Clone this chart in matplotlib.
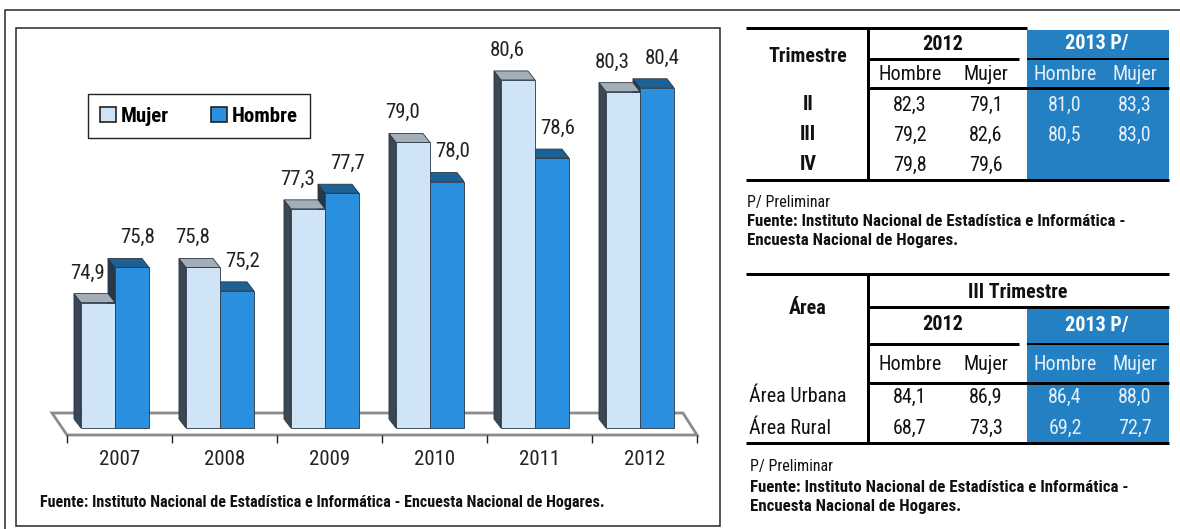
import matplotlib
matplotlib.use("Agg")
import matplotlib.pyplot as plt
from matplotlib.patches import Polygon, Rectangle, Patch

# --- data -------------------------------------------------------------
years = ["2007", "2008", "2009", "2010", "2011", "2012"]
mujer = [74.9, 75.8, 77.3, 79.0, 80.6, 80.3]
hombre = [75.8, 75.2, 77.7, 78.0, 78.6, 80.4]

trimestres = ["II", "III", "IV"]
t2012_hombre = [82.3, 79.2, 79.8]
t2012_mujer = [79.1, 82.6, 79.6]
t2013_hombre = [81.0, 80.5]
t2013_mujer = [83.3, 83.0]

areas = ["Área Urbana", "Área Rural"]
a2012_hombre = [84.1, 68.7]
a2012_mujer = [86.9, 73.3]
a2013_hombre = [86.4, 69.2]
a2013_mujer = [88.0, 72.7]

fuente = "Fuente: Instituto Nacional de Estadística e Informática - Encuesta Nacional de Hogares."

plt.rcParams["font.family"] = ["Roboto Condensed", "DejaVu Sans"]

W, H = 1180, 529
fig = plt.figure(figsize=(W / 100, H / 100), dpi=100)

# overlay axes in pixel coordinates (borders, tables, notes)
ov = fig.add_axes([0, 0, 1, 1], zorder=0)
ov.set_xlim(0, W)
ov.set_ylim(H, 0)
ov.axis("off")

def lw(px):
    return px * 0.72

def fmt(v):
    return f"{v:.1f}".replace(".", ",")

def txt(x, y, s, size=14.5, bold=False, color="#111111", ha="center"):
    ov.text(x, y, s, fontsize=size, fontweight="bold" if bold else "normal",
            color=color, ha=ha, va="center")

def hline(y, x0, x1, px=3, color="black"):
    ov.plot([x0, x1], [y, y], color=color, lw=lw(px), solid_capstyle="butt")

def vline(x, y0, y1, px=3, color="black"):
    ov.plot([x, x], [y0, y1], color=color, lw=lw(px), solid_capstyle="butt")

# outer frame and chart frame
ov.plot([5, 5, W], [H, 10, 10], color="#222222", lw=lw(1.5))
ov.add_patch(Rectangle((16, 28), 704, 498, fill=False, ec="#222222", lw=lw(1.5)))

# --- bar chart ----------------------------------------------------------
ax_l, ax_r, ax_t, ax_b = 67, 697, 28, 435
ax = fig.add_axes([ax_l / W, 1 - ax_b / H, (ax_r - ax_l) / W, (ax_b - ax_t) / H], zorder=1)
ax.patch.set_alpha(0)
ylo, yhi = 71.51, 81.93
ax.set_xlim(-0.5, len(years) - 0.5)
ax.set_ylim(ylo, yhi)
ppu_y = (ax_b - ax_t) / (yhi - ylo)
ppu_x = (ax_r - ax_l) / len(years)
base = ylo + 7 / ppu_y
dx = 7 / ppu_x
dy = 9 / ppu_y

# floor
floor_back = ylo + 22 / ppu_y
ax.add_patch(Polygon([(-0.5 - 15 / ppu_x, floor_back), (5.5 - 14 / ppu_x, floor_back),
                      (5.5, ylo), (-0.5, ylo)], closed=True, fc="white",
                     ec="#8c8c8c", lw=2, clip_on=False, zorder=1))

bw = 34 / ppu_x
x = list(range(len(years)))
xm = [i - 0.205 for i in x]
xh = [i + 0.119 for i in x]

def faces(xc, v, side_c, top_c, z):
    x0, x1 = xc - bw / 2, xc + bw / 2
    ax.add_patch(Polygon([(x0, base), (x0 - dx, base + dy), (x0 - dx, v + dy), (x0, v)],
                         closed=True, fc=side_c, ec="#2a3540", lw=0.6, zorder=z, clip_on=False))
    ax.add_patch(Polygon([(x0, v), (x0 - dx, v + dy), (x1 - dx, v + dy), (x1, v)],
                         closed=True, fc=top_c, ec="#2a3540", lw=0.6, zorder=z, clip_on=False))

for i in x:
    faces(xh[i], hombre[i], "#26394a", "#1d6194", 2)
ax.bar(xh, [v - base for v in hombre], bottom=base, width=bw, color="#2b8fe0",
       edgecolor="#2a3540", linewidth=0.6, zorder=2.5)
for i in x:
    faces(xm[i], mujer[i], "#3a4754", "#a3afb8", 3)
ax.bar(xm, [v - base for v in mujer], bottom=base, width=bw, color="#cfe4f7",
       edgecolor="#2a3540", linewidth=0.6, zorder=3.5, label="Mujer")

for i in x:
    ax.text(xm[i] - 0.1, mujer[i] + 0.76, fmt(mujer[i]), ha="center", va="center",
            fontsize=15, color="#222222", zorder=5)
    ax.text(xh[i] + 0.05, hombre[i] + 0.76, fmt(hombre[i]), ha="center", va="center",
            fontsize=15, color="#222222", zorder=5)

for s in ax.spines.values():
    s.set_visible(False)
ax.set_yticks([])
ax.set_xticks([i - 0.5 for i in range(len(years) + 1)])
ax.set_xticklabels([])
ax.tick_params(axis="x", which="major", length=6, width=1, color="#222222")
ax.set_xticks(x, minor=True)
ax.set_xticklabels(years, minor=True, fontsize=15, color="#222222")
ax.tick_params(axis="x", which="minor", length=0, pad=11)

handles = [Patch(fc="#cfe4f7", ec="#222222", lw=1.2), Patch(fc="#2b8fe0", ec="#222222", lw=1.2)]
leg = ax.legend(handles, ["Mujer", "Hombre"], ncol=2, loc="center",
                bbox_to_anchor=(199 / W, 1 - 116 / H), bbox_transform=fig.transFigure,
                frameon=True, fancybox=False, edgecolor="#222222", framealpha=1,
                handlelength=0.75, handleheight=0.75, handletextpad=0.25,
                columnspacing=2.0, borderpad=0.6,
                prop={"weight": "bold", "size": 15, "family": ["Roboto Condensed", "DejaVu Sans"]})
leg.get_frame().set_linewidth(1.0)

ov.text(40, 503, fuente, fontsize=11.65, fontweight="bold", color="#111111",
        ha="left", va="center")

# --- tables -------------------------------------------------------------
BLUE = "#2380c3"
LIGHT = "#e3effa"
TL, TV, TB0, TR = 746, 868, 1027, 1169
col_x = [910, 986, 1065, 1135]

# table 1
ov.add_patch(Rectangle((TB0, 30), TR - TB0, 150, fc=BLUE, ec="none"))
hline(28, TL, TB0)
hline(59, TV, 1019)
hline(59, TB0, TR, px=2)
hline(88, TV, TR)
hline(180, TL, TR)
vline(TV, 28, 181)
txt(808, 57, "Trimestre", bold=True)
txt(943, 44, "2012", bold=True)
txt(1097, 44, "2013 P/", bold=True, color="white")
for cx, lab in zip(col_x, ["Hombre", "Mujer", "Hombre", "Mujer"]):
    txt(cx, 74, lab, color="#111111" if cx < TB0 else LIGHT)
rows1 = [105, 135, 165]
for i, t in enumerate(trimestres):
    txt(808, rows1[i], t, bold=True)
    txt(col_x[0], rows1[i], fmt(t2012_hombre[i]))
    txt(col_x[1], rows1[i], fmt(t2012_mujer[i]))
for i in range(len(t2013_hombre)):
    txt(col_x[2], rows1[i], fmt(t2013_hombre[i]), color=LIGHT)
    txt(col_x[3], rows1[i], fmt(t2013_mujer[i]), color=LIGHT)

txt(747, 202, "P/ Preliminar", size=11.5, ha="left")
txt(747, 222, "Fuente: Instituto Nacional de Estadística e Informática -", size=12.2, bold=True, ha="left")
txt(747, 240, "Encuesta Nacional de Hogares.", size=12.2, bold=True, ha="left")

# table 2
ov.add_patch(Rectangle((TB0, 309), TR - TB0, 134, fc=BLUE, ec="none"))
hline(274, TL, TR)
hline(307, TV, TR)
hline(344, TV, 1019)
hline(344, TB0, TR, px=2)
hline(383, TV, TR)
hline(443, TL, TR)
vline(TV, 274, 443)
txt(808, 308, "Área", bold=True)
txt(1018, 292, "III Trimestre", bold=True)
txt(943, 325, "2012", bold=True)
txt(1097, 325, "2013 P/", bold=True, color="white")
for cx, lab in zip(col_x, ["Hombre", "Mujer", "Hombre", "Mujer"]):
    txt(cx, 365, lab, color="#111111" if cx < TB0 else LIGHT)
rows2 = [397, 428]
for i, a in enumerate(areas):
    txt(749, rows2[i], a, ha="left")
    txt(col_x[0], rows2[i], fmt(a2012_hombre[i]))
    txt(col_x[1], rows2[i], fmt(a2012_mujer[i]))
    txt(col_x[2], rows2[i], fmt(a2013_hombre[i]), color=LIGHT)
    txt(col_x[3], rows2[i], fmt(a2013_mujer[i]), color=LIGHT)

txt(750, 467, "P/ Preliminar", size=11.5, ha="left")
txt(750, 487, "Fuente: Instituto Nacional de Estadística e Informática -", size=12.2, bold=True, ha="left")
txt(750, 507, "Encuesta Nacional de Hogares.", size=12.2, bold=True, ha="left")

fig.savefig("out.png", dpi=100)
